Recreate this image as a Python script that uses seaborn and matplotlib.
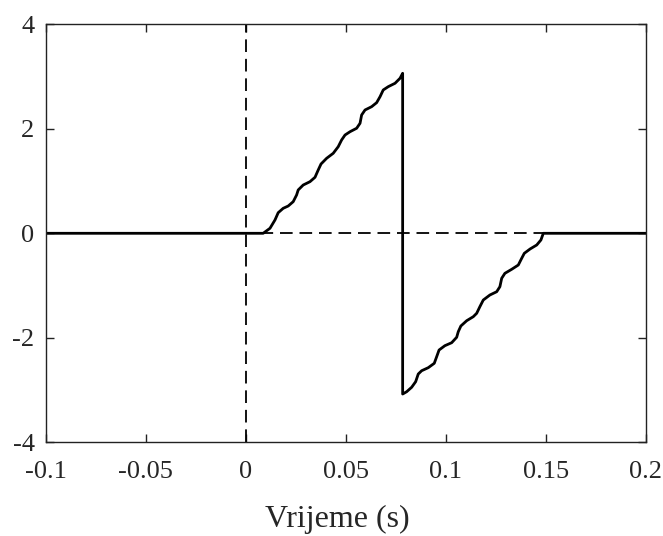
import numpy as np
import pandas as pd
import matplotlib
matplotlib.use('Agg')
import matplotlib.pyplot as plt
import seaborn as sns

# points (temps en s, valeur)
rampe1_t = [0.0087, 0.0121, 0.0146, 0.0162, 0.0187, 0.0212, 0.0237, 0.0254, 0.0262, 0.0287,
            0.0321, 0.0346, 0.0362, 0.0376, 0.0404, 0.0437, 0.0462, 0.0479, 0.0496, 0.0521,
            0.0554, 0.0571, 0.0579, 0.0596, 0.0629, 0.0654, 0.0671, 0.0687, 0.0712, 0.0746,
            0.0771, 0.0784]
rampe1_y = [0.0, 0.096, 0.255, 0.394, 0.478, 0.522, 0.605, 0.733, 0.829, 0.924,
            0.988, 1.072, 1.211, 1.326, 1.435, 1.531, 1.657, 1.786, 1.881, 1.944,
            2.010, 2.105, 2.264, 2.360, 2.423, 2.500, 2.614, 2.743, 2.806, 2.871,
            2.967, 3.062]

rampe2_t = [0.0784, 0.0804, 0.0829, 0.0849, 0.0862, 0.0879, 0.0912, 0.0942, 0.0954, 0.0966,
            0.0995, 0.1029, 0.1054, 0.1062, 0.1075, 0.1104, 0.1137, 0.1154, 0.1170, 0.1187,
            0.1220, 0.1254, 0.1270, 0.1279, 0.1295, 0.1329, 0.1362, 0.1379, 0.1392, 0.1421,
            0.1454, 0.1475, 0.1487]
rampe2_y = [-3.076, -3.032, -2.947, -2.840, -2.693, -2.630, -2.572, -2.488, -2.362, -2.234,
            -2.151, -2.094, -1.990, -1.883, -1.774, -1.673, -1.596, -1.531, -1.404, -1.277,
            -1.181, -1.118, -1.022, -0.861, -0.766, -0.689, -0.607, -0.478, -0.383, -0.300,
            -0.224, -0.128, 0.0]

debut_t, debut_y = [-0.1], [0.0]
fin_t, fin_y = [0.2], [0.0]

xticks = [-0.1, -0.05, 0, 0.05, 0.1, 0.15, 0.2]
xlabels = ['-0.1', '-0.05', '0', '0.05', '0.1', '0.15', '0.2']
yticks = [-4, -2, 0, 2, 4]
ylabels = ['-4', '-2', '0', '2', '4']

sns.set_style('ticks')
plt.rcParams['font.family'] = ['Liberation Serif', 'DejaVu Serif']
plt.rcParams['axes.unicode_minus'] = False

df = pd.DataFrame({
    't': debut_t + rampe1_t + rampe2_t + fin_t,
    'y': debut_y + rampe1_y + rampe2_y + fin_y,
})

fig = plt.figure(figsize=(6.63, 5.36), dpi=100)
ax = fig.add_axes([0.0689, 0.1748, 0.9054, 0.7799])

# axes en pointillés
ax.axhline(0, color='black', lw=1.3, linestyle=(0, (7, 3.8)), zorder=1)
ax.axvline(0, color='black', lw=1.3, linestyle=(0, (7, 3.8)), zorder=1)

sns.lineplot(data=df, x='t', y='y', sort=False, estimator=None, color='black',
             lw=2.0, ax=ax, zorder=2)

ax.set_xlim(-0.1, 0.2)
ax.set_ylim(-4, 4)
ax.set_xticks(xticks)
ax.set_xticklabels(xlabels)
ax.set_yticks(yticks)
ax.set_yticklabels(ylabels)
ax.set_xlabel('Vrijeme (s)', fontsize=23, labelpad=16)
ax.xaxis.label.set_x(0.485)
ax.set_ylabel('')

for s in ax.spines.values():
    s.set_visible(True)
    s.set_linewidth(1.0)
    s.set_color('#222222')
ax.tick_params(direction='in', length=5.5, width=1.0, color='#222222',
               top=True, right=True, labelsize=19)
ax.tick_params(axis='x', pad=13.5)
ax.tick_params(axis='y', pad=8)

fig.savefig('out.png', dpi=100)
